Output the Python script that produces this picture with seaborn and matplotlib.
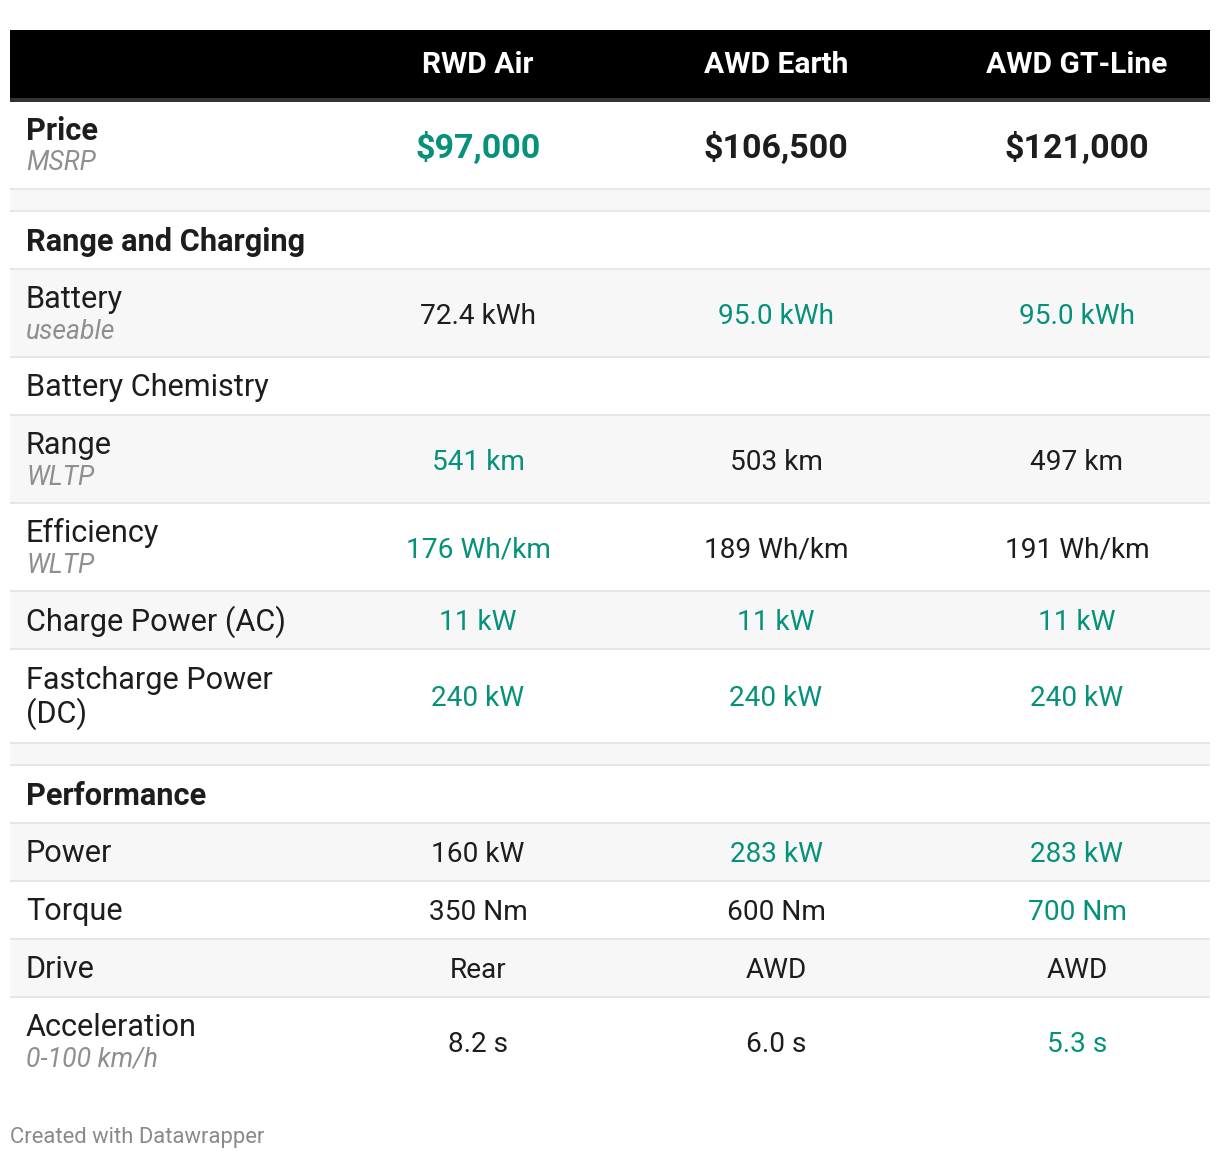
import matplotlib
matplotlib.use("Agg")
import matplotlib.pyplot as plt
import seaborn as sns
import pandas as pd
from matplotlib.patches import Rectangle

sns.set_theme(style="white")
plt.rcParams['font.family'] = ['Roboto', 'DejaVu Sans']

# ---------------- data ----------------
models = ["RWD Air", "AWD Earth", "AWD GT-Line"]

price = ["$97,000", "$106,500", "$121,000"]
price_best = [True, False, False]

battery = ["72.4 kWh", "95.0 kWh", "95.0 kWh"]
battery_best = [False, True, True]
chemistry = ["", "", ""]
chemistry_best = [False, False, False]
wltp_range = ["541 km", "503 km", "497 km"]
range_best = [True, False, False]
efficiency = ["176 Wh/km", "189 Wh/km", "191 Wh/km"]
efficiency_best = [True, False, False]
charge_ac = ["11 kW", "11 kW", "11 kW"]
charge_ac_best = [True, True, True]
charge_dc = ["240 kW", "240 kW", "240 kW"]
charge_dc_best = [True, True, True]

power = ["160 kW", "283 kW", "283 kW"]
power_best = [False, True, True]
torque = ["350 Nm", "600 Nm", "700 Nm"]
torque_best = [False, False, True]
drive = ["Rear", "AWD", "AWD"]
drive_best = [False, False, False]
accel = ["8.2 s", "6.0 s", "5.3 s"]
accel_best = [False, False, True]

# table structure: (kind, label, sublabel, values, best)
rows = [
    ("price", "Price", "MSRP", price, price_best),
    ("spacer", "", "", None, None),
    ("section", "Range and Charging", "", None, None),
    ("row", "Battery", "useable", battery, battery_best),
    ("row", "Battery Chemistry", "", chemistry, chemistry_best),
    ("row", "Range", "WLTP", wltp_range, range_best),
    ("row", "Efficiency", "WLTP", efficiency, efficiency_best),
    ("row", "Charge Power (AC)", "", charge_ac, charge_ac_best),
    ("row", "Fastcharge Power\n(DC)", "", charge_dc, charge_dc_best),
    ("spacer", "", "", None, None),
    ("section", "Performance", "", None, None),
    ("row", "Power", "", power, power_best),
    ("row", "Torque", "", torque, torque_best),
    ("row", "Drive", "", drive, drive_best),
    ("row", "Acceleration", "0-100 km/h", accel, accel_best),
]
df = pd.DataFrame(rows, columns=["kind", "label", "sub", "values", "best"])

# ---------------- style ----------------
GREEN = "#05917a"
DARK = "#1d1d1d"
GRAY_TXT = "#8f8f8f"
ALT_BG = "#f7f7f7"
BORDER = "#e6e6e6"
PX = 0.72  # px -> pt at dpi 100

FS_HEAD = 30
FS_PRICE = 34
FS_BOLD_LABEL = 30.8
FS_LABEL = 30.6
FS_SUB = 26.5
FS_VAL = 28
FS_FOOT = 22

fig = plt.figure(figsize=(12.2, 11.6), dpi=100)
ax = fig.add_axes([0, 0, 1, 1])
ax.set_xlim(0, 1220)
ax.set_ylim(1160, 0)
ax.axis("off")

L, R = 10, 1210
col_x = [478, 776, 1077]
label_x = 26

# header
ax.add_patch(Rectangle((L, 30), R - L, 68, color="black", lw=0))
ax.add_patch(Rectangle((L, 98), R - L, 4, color="#333333", lw=0))
for x, m in zip(col_x, models):
    ax.text(x, 65, m, color="white", fontsize=FS_HEAD * PX, fontweight="bold",
            ha="center", va="center")

y = 102
stripe = 0
for i, r in df.iterrows():
    kind = r["kind"]
    if kind == "price":
        h = 86
    elif kind == "spacer":
        h = 20
    elif kind == "section":
        h = 56
    else:
        if r["sub"]:
            h = 86
        elif "\n" in r["label"]:
            h = 92
        else:
            h = 56
    # background
    if kind == "spacer":
        bg = ALT_BG
        stripe = 0
    elif kind == "row":
        bg = ALT_BG if stripe % 2 == 0 else "white"
        stripe += 1
    else:
        bg = "white"
    ax.add_patch(Rectangle((L, y), R - L, h, color=bg, lw=0))
    cy = y + h / 2
    if kind == "price":
        ax.text(label_x, cy - 14, r["label"], color=DARK, fontsize=FS_BOLD_LABEL * PX,
                fontweight="bold", ha="left", va="center")
        ax.text(label_x, cy + 18, r["sub"], color=GRAY_TXT, fontsize=FS_SUB * PX,
                style="italic", ha="left", va="center")
        for x, v, b in zip(col_x, r["values"], r["best"]):
            ax.text(x, cy + 3, v, color=GREEN if b else DARK, fontsize=FS_PRICE * PX,
                    fontweight="bold", ha="center", va="center")
    elif kind == "section":
        ax.text(label_x, cy + 2, r["label"], color=DARK, fontsize=FS_BOLD_LABEL * PX,
                fontweight="bold", ha="left", va="center")
    elif kind == "row":
        if r["sub"]:
            ax.text(label_x, cy - 14, r["label"], color=DARK, fontsize=FS_LABEL * PX,
                    ha="left", va="center")
            ax.text(label_x, cy + 19, r["sub"], color=GRAY_TXT, fontsize=FS_SUB * PX,
                    style="italic", ha="left", va="center")
        else:
            ax.text(label_x, cy + 2, r["label"], color=DARK, fontsize=FS_LABEL * PX,
                    ha="left", va="center", linespacing=1.12)
        for x, v, b in zip(col_x, r["values"], r["best"]):
            if v:
                ax.text(x, cy + 3, v, color=GREEN if b else DARK,
                        fontsize=FS_VAL * PX, ha="center", va="center")
    y += h
    # border below
    if i < len(df) - 1:
        ax.add_patch(Rectangle((L, y), R - L, 2, color=BORDER, lw=0))
        y += 2

ax.text(10, 1137, "Created with Datawrapper", color="#8a8a8a",
        fontsize=FS_FOOT * PX, ha="left", va="center")

fig.savefig("out.png", dpi=100, facecolor="white")
